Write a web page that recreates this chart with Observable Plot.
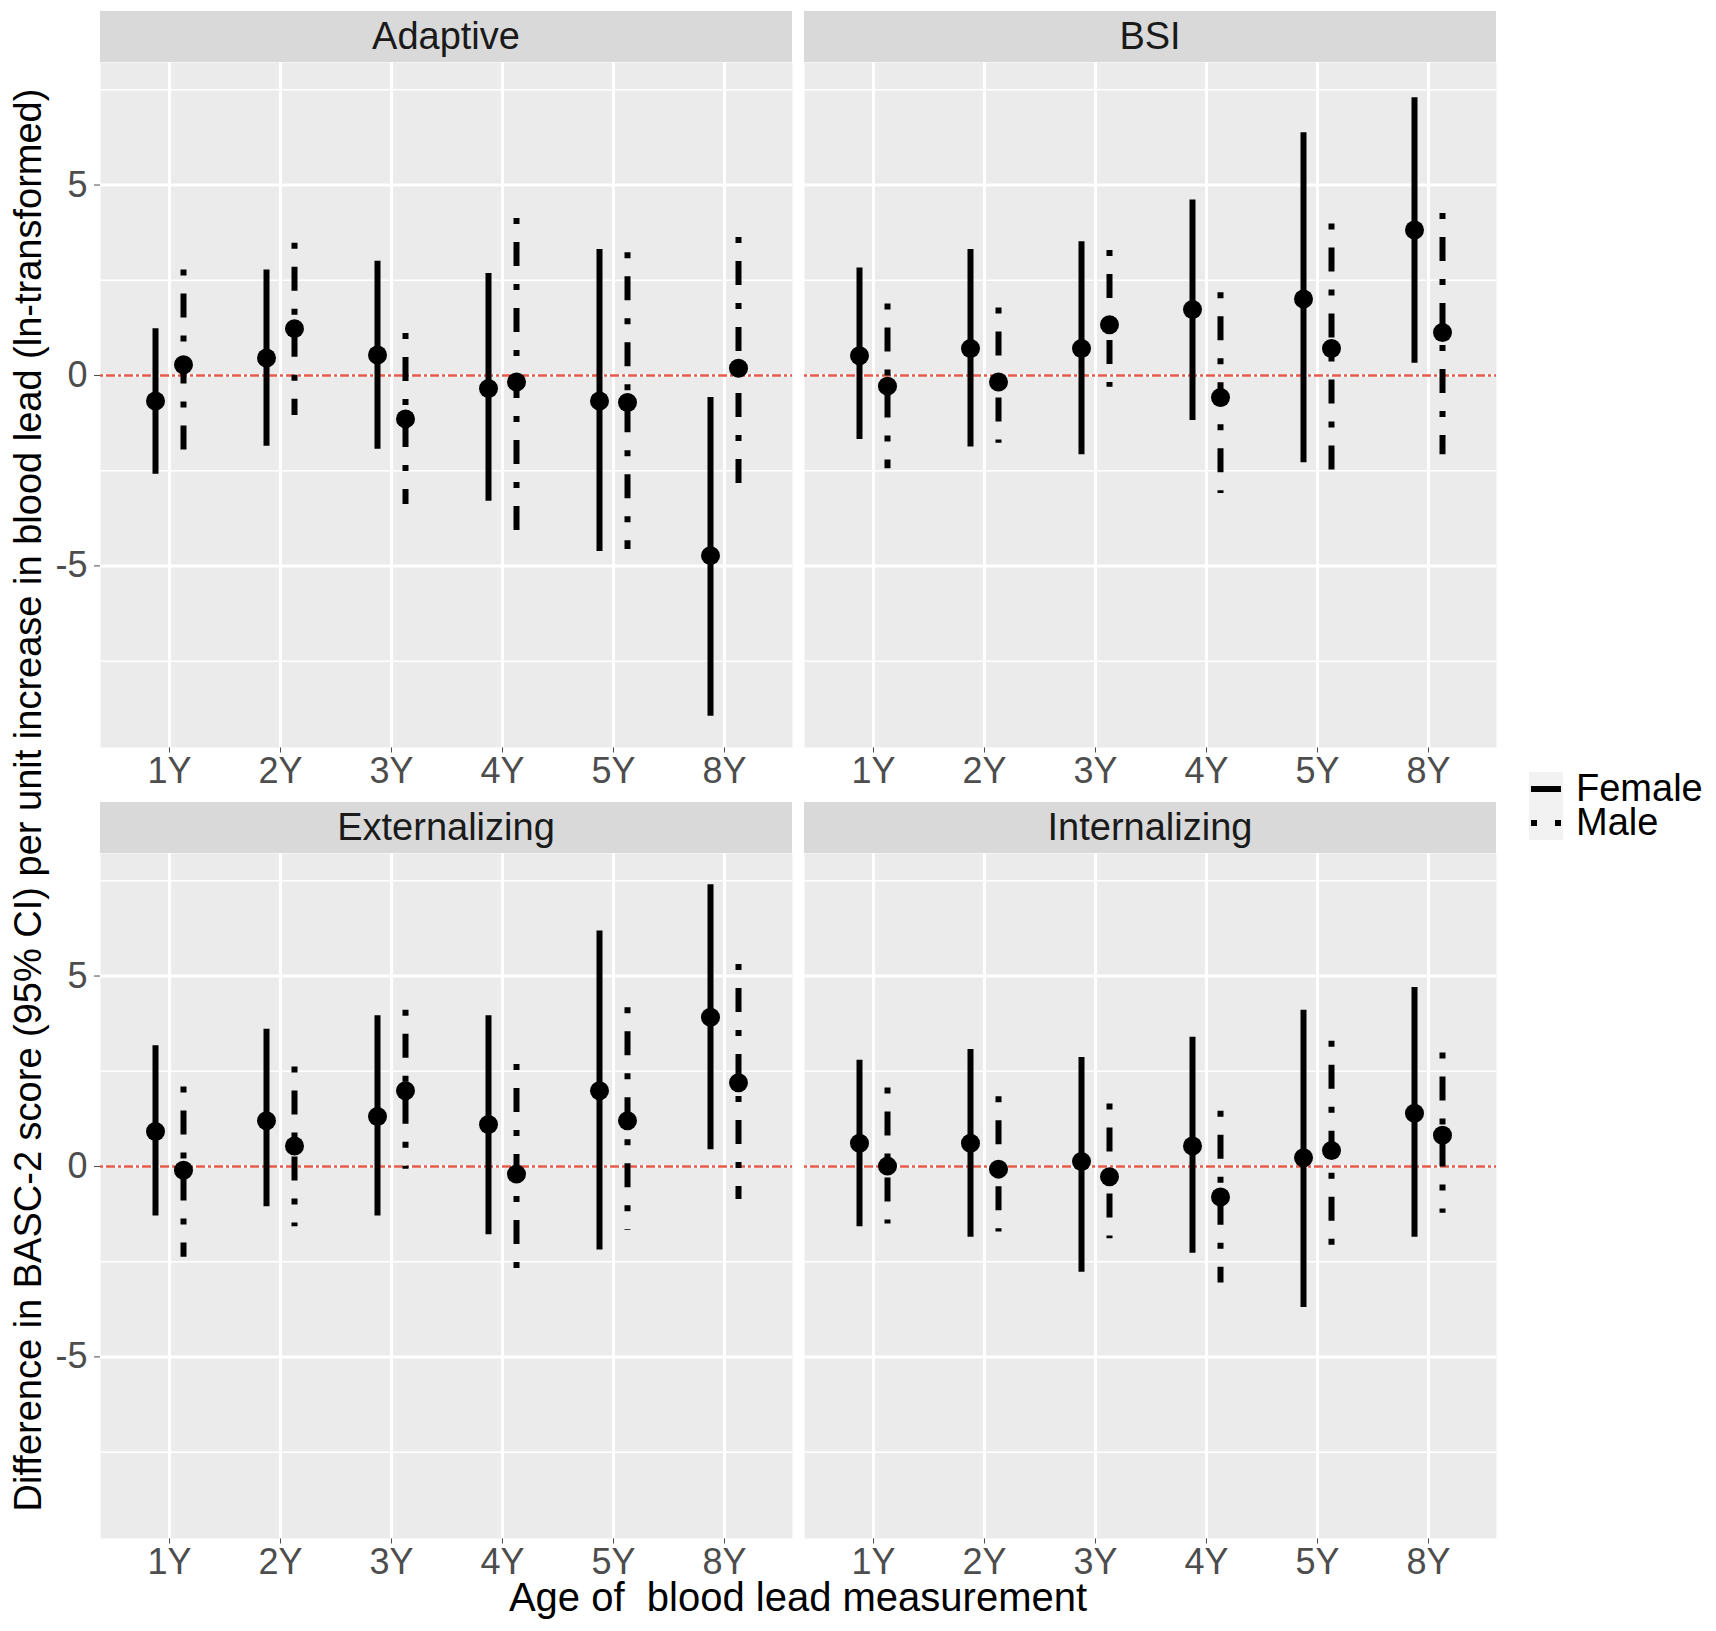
<!DOCTYPE html>
<html>
<head>
<meta charset="utf-8">
<script src="https://cdn.jsdelivr.net/npm/d3@7"></script>
<script src="https://cdn.jsdelivr.net/npm/@observablehq/plot@0.6"></script>
<style>
  body { margin: 0; background: #ffffff; }
  #root { position: relative; width: 1716px; height: 1631px; background: #ffffff; overflow: hidden;
          font-family: "Liberation Sans", Arial, Helvetica, sans-serif; }
  .strip { position: absolute; background: #d9d9d9; color: #1a1a1a; font-size: 38px; text-align: center; white-space: nowrap; }
  .title { position: absolute; color: #000000; white-space: pre; text-align: center; }
  .legtext { position: absolute; color: #000000; font-size: 38px; line-height: 33px; height: 33px; white-space: nowrap; }
</style>
</head>
<body>
<div id="root"></div>
<script>
// ---------------- data ----------------
const ages = ["1Y", "2Y", "3Y", "4Y", "5Y", "8Y"];
const panelNames = ["Adaptive", "BSI", "Externalizing", "Internalizing"];
const sexes = ["Female", "Male"];

const adaptiveFemaleEst = [-0.67, 0.46, 0.54, -0.34, -0.67, -4.73];
const adaptiveFemaleLo  = [-2.59, -1.86, -1.94, -3.30, -4.62, -8.95];
const adaptiveFemaleHi  = [1.23, 2.77, 3.00, 2.68, 3.31, -0.58];
const adaptiveMaleEst   = [0.28, 1.23, -1.14, -0.17, -0.71, 0.19];
const adaptiveMaleLo    = [-1.97, -1.05, -3.39, -4.10, -4.57, -2.86];
const adaptiveMaleHi    = [2.77, 3.47, 1.10, 4.12, 3.22, 3.62];

const bsiFemaleEst = [0.52, 0.71, 0.71, 1.73, 2.01, 3.82];
const bsiFemaleLo  = [-1.68, -1.88, -2.08, -1.18, -2.29, 0.32];
const bsiFemaleHi  = [2.82, 3.31, 3.51, 4.61, 6.37, 7.29];
const bsiMaleEst   = [-0.28, -0.17, 1.33, -0.58, 0.71, 1.13];
const bsiMaleLo    = [-2.45, -1.78, -0.31, -3.10, -2.52, -2.08];
const bsiMaleHi    = [1.88, 1.77, 3.28, 2.17, 3.98, 4.25];

const externalizingFemaleEst = [0.92, 1.20, 1.31, 1.10, 1.99, 3.92];
const externalizingFemaleLo  = [-1.30, -1.06, -1.30, -1.79, -2.19, 0.44];
const externalizingFemaleHi  = [3.17, 3.60, 3.96, 3.96, 6.18, 7.40];
const externalizingMaleEst   = [-0.10, 0.54, 1.99, -0.20, 1.20, 2.20];
const externalizingMaleLo    = [-2.38, -1.58, -0.07, -2.68, -1.68, -0.87];
const externalizingMaleHi    = [2.09, 2.61, 4.10, 2.68, 4.17, 5.30];

const internalizingFemaleEst = [0.61, 0.61, 0.13, 0.54, 0.23, 1.40];
const internalizingFemaleLo  = [-1.58, -1.86, -2.78, -2.28, -3.70, -1.86];
const internalizingFemaleHi  = [2.79, 3.07, 2.86, 3.39, 4.10, 4.70];
const internalizingMaleEst   = [0.01, -0.07, -0.27, -0.80, 0.42, 0.82];
const internalizingMaleLo    = [-1.51, -1.72, -1.90, -3.06, -2.07, -1.23];
const internalizingMaleHi    = [2.06, 1.83, 1.64, 1.45, 3.29, 2.98];

const yMajorTicks = [-5, 0, 5];
const yMinorTicks = [-7.5, -2.5, 2.5, 7.5];

const xTitle = "Age of  blood lead measurement";
const yTitle = "Difference in BASC-2 score (95% CI) per unit increase in blood lead (ln-transformed)";

// ---------------- table built from arrays ----------------
const series = {
  Adaptive: {Female: [adaptiveFemaleEst, adaptiveFemaleLo, adaptiveFemaleHi], Male: [adaptiveMaleEst, adaptiveMaleLo, adaptiveMaleHi]},
  BSI: {Female: [bsiFemaleEst, bsiFemaleLo, bsiFemaleHi], Male: [bsiMaleEst, bsiMaleLo, bsiMaleHi]},
  Externalizing: {Female: [externalizingFemaleEst, externalizingFemaleLo, externalizingFemaleHi], Male: [externalizingMaleEst, externalizingMaleLo, externalizingMaleHi]},
  Internalizing: {Female: [internalizingFemaleEst, internalizingFemaleLo, internalizingFemaleHi], Male: [internalizingMaleEst, internalizingMaleLo, internalizingMaleHi]}
};
function rows(panel, sex) {
  const [est, lo, hi] = series[panel][sex];
  return ages.map((age, i) => ({panel, sex, age, est: est[i], lo: lo[i], hi: hi[i]}));
}
const allRows = panelNames.flatMap(p => sexes.flatMap(s => rows(p, s)));
const ext = d3.extent(allRows.flatMap(d => [d.lo, d.hi]));
const pad = (ext[1] - ext[0]) * 0.05;
const yDomain = [ext[0] - pad, ext[1] + pad];

// ---------------- layout ----------------
const FONT = '"Liberation Sans", Arial, Helvetica, sans-serif';
const colLeft = [100, 804];
const colWidth = 692;
const rowTop = [62, 853];
const plotH = 685;
const stripH = 51;
const dodge = 14;
const root = document.getElementById("root");

panelNames.forEach((name, k) => {
  const col = k % 2, row = Math.floor(k / 2);
  const female = rows(name, "Female");
  const male = rows(name, "Male");
  const mL = col === 0 ? colLeft[0] : 0;
  const chart = Plot.plot({
    width: mL + colWidth,
    height: plotH + 60,
    marginLeft: mL,
    marginRight: 0,
    marginTop: 0,
    marginBottom: 60,
    style: {fontFamily: FONT, fontSize: "36px", color: "#4d4d4d", background: "transparent", overflow: "visible"},
    x: {type: "point", domain: ages, padding: 0.6, label: null, tickSize: 5.5, tickPadding: 4.5},
    y: {domain: yDomain, ticks: yMajorTicks, tickFormat: d => String(d), label: null,
        tickSize: 6, tickPadding: 7, axis: col === 0 ? "left" : null},
    marks: [
      Plot.frame({fill: "#ebebeb", stroke: "none"}),
      Plot.ruleY(yMinorTicks, {stroke: "#ffffff", strokeWidth: 1.5}),
      Plot.ruleY(yMajorTicks, {stroke: "#ffffff", strokeWidth: 3}),
      Plot.ruleX(ages, {stroke: "#ffffff", strokeWidth: 3}),
      Plot.ruleY([0], {stroke: "#e65a4a", strokeWidth: 2.5, strokeDasharray: "3,3,9,3"}),
      Plot.ruleX(female, {x: "age", y1: "hi", y2: "lo", dx: -dodge, stroke: "#000000", strokeWidth: 6, strokeLinecap: "butt"}),
      Plot.ruleX(male, {x: "age", y1: "hi", y2: "lo", dx: dodge, stroke: "#000000", strokeWidth: 6,
                        strokeDasharray: "6,18,24,18", strokeLinecap: "butt"}),
      Plot.dot(female, {x: "age", y: "est", dx: -dodge, r: 9.5, fill: "#000000", stroke: "none"}),
      Plot.dot(male, {x: "age", y: "est", dx: dodge, r: 9.5, fill: "#000000", stroke: "none"})
    ]
  });
  chart.style.position = "absolute";
  chart.style.left = (colLeft[col] - mL) + "px";
  chart.style.top = rowTop[row] + "px";
  root.appendChild(chart);

  const strip = document.createElement("div");
  strip.className = "strip";
  strip.textContent = name;
  strip.style.left = colLeft[col] + "px";
  strip.style.width = colWidth + "px";
  strip.style.top = (rowTop[row] - stripH) + "px";
  strip.style.height = stripH + "px";
  strip.style.lineHeight = stripH + "px";
  root.appendChild(strip);
});

// axis titles
const xt = document.createElement("div");
xt.className = "title";
xt.textContent = xTitle;
xt.style.fontSize = "40px";
xt.style.lineHeight = "28px";
xt.style.height = "28px";
xt.style.left = (colLeft[0]) + "px";
xt.style.width = (colLeft[1] + colWidth - colLeft[0]) + "px";
xt.style.top = "1583px";
root.appendChild(xt);

const yt = document.createElement("div");
yt.className = "title";
yt.textContent = yTitle;
yt.style.fontSize = "38px";
yt.style.lineHeight = "38px";
yt.style.width = "1600px";
yt.style.height = "38px";
yt.style.left = (28 - 800) + "px";
yt.style.top = (800 - 19) + "px";
yt.style.transform = "rotate(-90deg)";
root.appendChild(yt);

// legend
const keyNS = "http://www.w3.org/2000/svg";
const key = document.createElementNS(keyNS, "svg");
key.setAttribute("width", 34);
key.setAttribute("height", 68);
key.style.position = "absolute";
key.style.left = "1529px";
key.style.top = "772px";
key.innerHTML =
  '<rect x="0" y="0" width="34" height="68" fill="#f2f2f2"/>' +
  '<line x1="2" x2="32" y1="17" y2="17" stroke="#000" stroke-width="6"/>' +
  '<line x1="2" x2="32" y1="51" y2="51" stroke="#000" stroke-width="6" stroke-dasharray="6,18,24,18"/>';
root.appendChild(key);
sexes.forEach((s, i) => {
  const t = document.createElement("div");
  t.className = "legtext";
  t.textContent = s;
  t.style.left = "1576px";
  t.style.top = (772 + 34 * i) + "px";
  root.appendChild(t);
});
</script>
</body>
</html>
